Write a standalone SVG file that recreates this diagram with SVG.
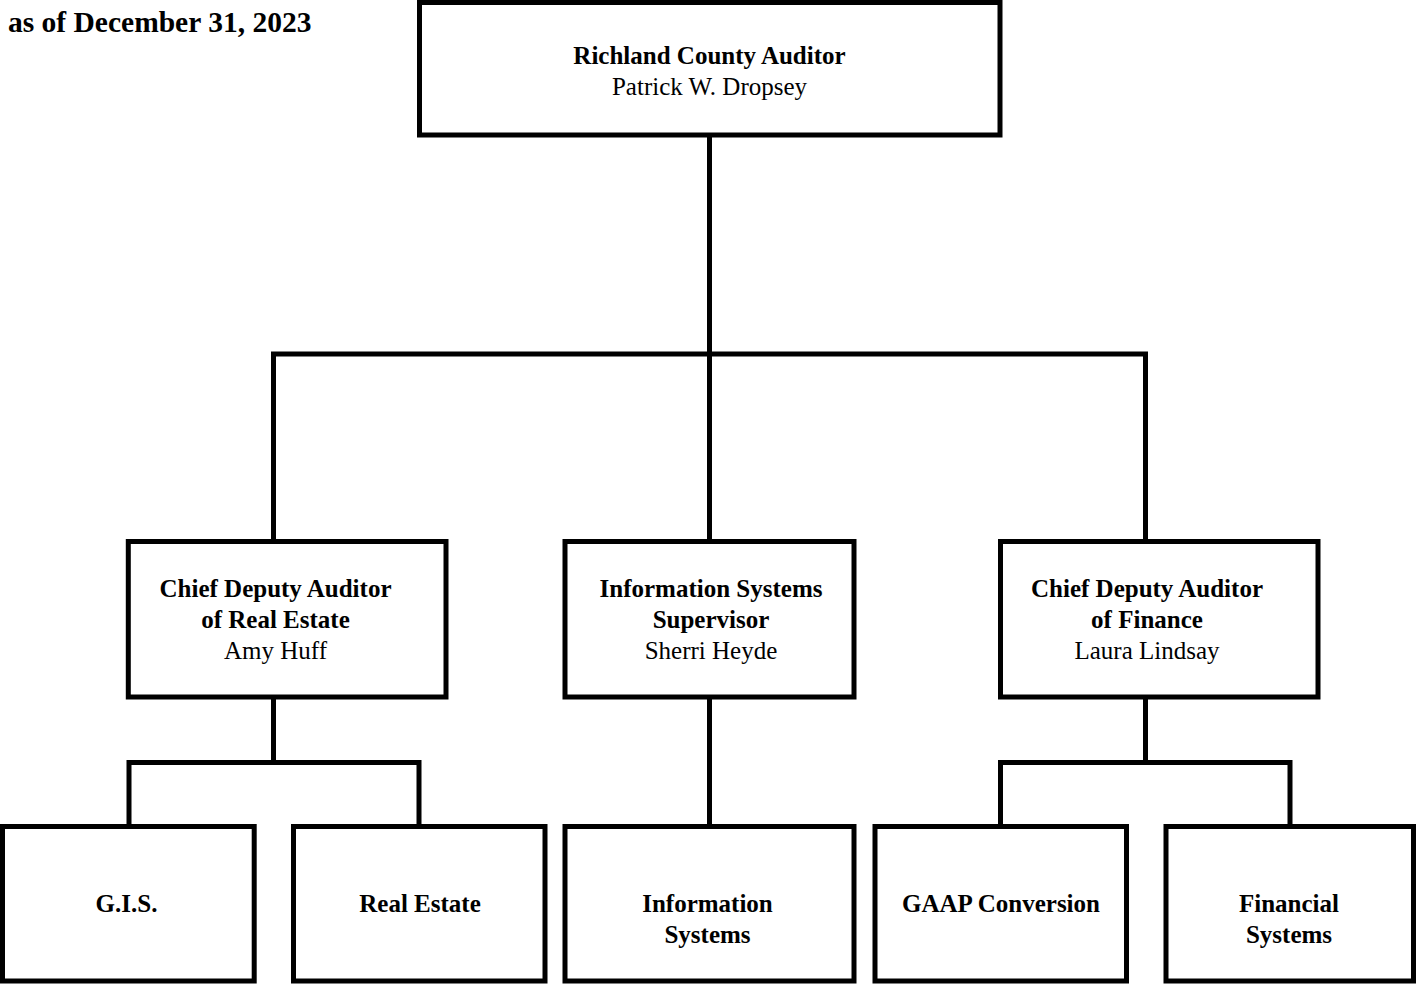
<svg xmlns="http://www.w3.org/2000/svg" width="1416" height="984" viewBox="0 0 1416 984">
<style>
.box{fill:#fff;stroke:#000;stroke-width:5}
.conn{fill:none;stroke:#000;stroke-width:5;stroke-linejoin:miter}
text{font-family:"Liberation Serif","Times New Roman",serif;font-size:25px;fill:#000;text-anchor:middle}
.b{font-weight:bold}
.hdr{font-size:29.5px;font-weight:bold;text-anchor:start}
</style>
<rect width="1416" height="984" fill="#fff"/>
<text class="hdr" x="8" y="32">as of December 31, 2023</text>
<g id="connectors">
<path class="conn" d="M709.5,135 V541.5"/>
<path class="conn" d="M273.5,541.5 V354 H1145.5 V541.5"/>
<path class="conn" d="M273.5,697 V762.5"/>
<path class="conn" d="M129,826.5 V762.5 H419 V826.5"/>
<path class="conn" d="M709.5,697 V826.5"/>
<path class="conn" d="M1145.5,697 V762.5"/>
<path class="conn" d="M1000.5,826.5 V762.5 H1290 V826.5"/>
</g>
<g id="auditor">
<rect class="box" x="419.5" y="2.5" width="580.5" height="132.5"/>
<text class="b" x="709.5" y="64">Richland County Auditor</text>
<text x="709.5" y="95">Patrick W. Dropsey</text>
</g>
<g id="cda-real-estate">
<rect class="box" x="128.3" y="541.5" width="317.7" height="155.5"/>
<text class="b" x="275.5" y="597">Chief Deputy Auditor</text>
<text class="b" x="275.5" y="628">of Real Estate</text>
<text x="275.5" y="659">Amy Huff</text>
</g>
<g id="is-supervisor">
<rect class="box" x="565" y="541.5" width="289" height="155.5"/>
<text class="b" x="711" y="597">Information Systems</text>
<text class="b" x="711" y="628">Supervisor</text>
<text x="711" y="659">Sherri Heyde</text>
</g>
<g id="cda-finance">
<rect class="box" x="1000.5" y="541.5" width="317.5" height="155.5"/>
<text class="b" x="1147" y="597">Chief Deputy Auditor</text>
<text class="b" x="1147" y="628">of Finance</text>
<text x="1147" y="659">Laura Lindsay</text>
</g>
<g id="gis">
<rect class="box" x="2.5" y="826.5" width="251.7" height="154.5"/>
<text class="b" x="126.5" y="912">G.I.S.</text>
</g>
<g id="real-estate">
<rect class="box" x="293.5" y="826.5" width="251.5" height="154.5"/>
<text class="b" x="420" y="912">Real Estate</text>
</g>
<g id="information-systems">
<rect class="box" x="565" y="826.5" width="289" height="154.5"/>
<text class="b" x="707.5" y="912">Information</text>
<text class="b" x="707.5" y="943">Systems</text>
</g>
<g id="gaap-conversion">
<rect class="box" x="875" y="826.5" width="251.5" height="154.5"/>
<text class="b" x="1001" y="912">GAAP Conversion</text>
</g>
<g id="financial-systems">
<rect class="box" x="1166" y="826.5" width="247.5" height="154.5"/>
<text class="b" x="1289" y="912">Financial</text>
<text class="b" x="1289" y="943">Systems</text>
</g>
</svg>
